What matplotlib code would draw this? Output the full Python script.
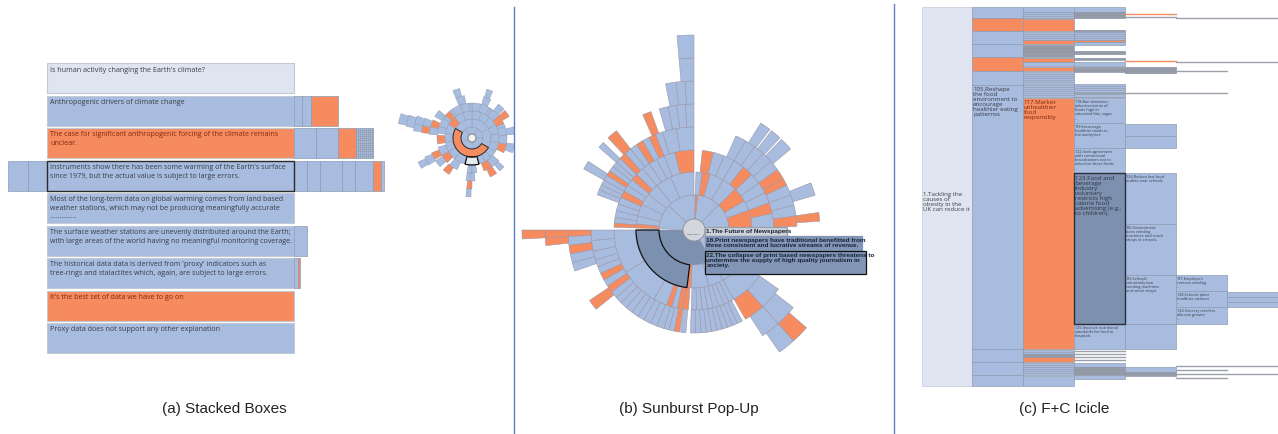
import matplotlib
matplotlib.use("Agg")
import matplotlib.pyplot as plt
from matplotlib.patches import Rectangle, Wedge, Circle

BLUE = "#a7bcdf"
ORANGE = "#f58b5e"
LIGHT = "#dee5f0"
DARK = "#7c90b0"
GREY = "#9aa1ab"
EDGE = "#97a2b8"
FILL = {"b": BLUE, "o": ORANGE, "l": LIGHT, "d": DARK, "w": "#e6ebf2", "g": GREY, "s": BLUE}
TXT = "#3a3d44"
TXT_O = "#7d2a10"

# ---------------- (a) stacked boxes ----------------
box_top = [64, 97, 129, 162, 194, 227, 259, 292, 324]
box_kind = ["l", "b", "o", "b", "b", "b", "b", "o", "b"]
box_text = [
    "Is human activity changing the Earth's climate?",
    "Anthropogenic drivers of climate change",
    "The case for significant anthropogenic forcing of the climate remains\nunclear.",
    "Instruments show there has been some warming of the Earth's surface\nsince 1979, but the actual value is subject to large errors.",
    "Most of the long-term data on global warming comes from land based\nweather stations, which may not be producing meaningfully accurate\n..............",
    "The surface weather stations are unevenly distributed around the Earth;\nwith large areas of the world having no meaningful monitoring coverage.",
    "The historical data data is derived from 'proxy' indicators such as\ntree-rings and stalactites which, again, are subject to large errors.",
    "It's the best set of data we have to go on",
    "Proxy data does not support any other explanation",
]
# sibling boxes sticking out right / left of each focus box: (width, kind)
box_right = [[], [(8, "b"), (9, "b"), (27, "o")],
             [(22, "b"), (22, "b"), (18, "o"), (17, "s")],
             [(13, "b"), (13, "b"), (22, "b"), (13, "b"), (18, "b"), (8, "o"), (3, "b")],
             [], [(13, "b")], [(4, "b"), (2, "o")], [], []]
box_left = [[], [], [], [(19, "b"), (20, "b")], [], [], [], [], []]
box_selected = 3

# small overview sunburst in (a): per ring (start deg, end deg, kind)
small_rings = [
    [(0, 60, "b"), (60, 130, "b"), (130, 200, "b"), (200, 280, "b"), (280, 360, "b")],
    [(-30, 30, "b"), (30, 90, "b"), (90, 150, "b"), (150, 330, "o")],
    [(-30, -10, "b"), (-10, 10, "b"), (10, 30, "b"), (30, 50, "b"), (50, 70, "b"), (70, 90, "b"),
     (90, 110, "b"), (110, 130, "b"), (130, 150, "o"), (150, 170, "b"), (170, 190, "b"),
     (190, 210, "b"), (210, 230, "b"), (230, 255, "b"), (255, 285, "w"), (285, 300, "b"),
     (300, 315, "b"), (315, 330, "b")],
    [(-25, -10, "o"), (-10, 5, "b"), (5, 20, "b"), (20, 25, "b"), (25, 40, "o"), (40, 55, "b"),
     (55, 60, "b"), (60, 75, "b"), (75, 90, "b"), (90, 95, "b"), (95, 110, "b"), (110, 125, "b"),
     (125, 130, "b"), (130, 140, "o"), (140, 145, "b"), (145, 160, "b"), (160, 172, "b"),
     (175, 190, "o"), (195, 210, "b"), (210, 225, "o"), (230, 245, "b"), (262, 270, "b"),
     (270, 278, "b"), (290, 305, "o"), (305, 320, "b")],
    [(-20, -8, "b"), (5, 15, "b"), (30, 40, "o"), (42, 52, "b"), (64, 74, "b"), (100, 112, "b"),
     (140, 150, "b"), (155, 165, "o"), (165, 175, "b"), (200, 210, "o"), (212, 222, "b"),
     (228, 238, "o"), (262, 268, "b"), (268, 274, "b"), (295, 305, "o"), (310, 318, "b")],
    [(66, 73, "b"), (104, 112, "b"), (157, 166, "b"), (166, 174, "o"), (202, 212, "b"), (264, 270, "o")],
    [(158, 166, "b"), (166, 173, "b"), (204, 211, "b"), (264, 269, "b")],
    [(160, 170, "b")],
    [(161, 169, "b")],
]
small_radii = [4, 11, 19, 27, 35, 43, 51, 59, 67, 75]

# ---------------- (b) sunburst pop-up ----------------
big_rings = [
    [(2, 46, "b"), (46, 84, "b"), (84, 88, "o"), (88, 136, "b"), (136, 178, "b"),
     (180, 300, "d"), (300, 358, "b")],
    [(90, 114, "b"), (114, 130, "b"), (130, 142, "b"), (142, 154, "b"), (154, 166, "b"),
     (166, 174, "b"), (174, 178, "o"),
     (180, 263, "d"), (263, 267, "o"), (267, 285, "b"), (285, 300, "b"), (300, 325, "b"),
     (325, 358, "b"),
     (2, 20, "o"), (20, 30, "b"), (30, 45, "o"), (45, 60, "b"), (60, 74, "b"), (74, 82, "o"), (82, 88, "b")],
    [(90, 104, "o"), (104, 112, "b"), (112, 118, "b"), (118, 124, "b"), (124, 130, "b"), (130, 136, "b"),
     (136, 141, "o"), (141, 146, "b"), (146, 151, "b"), (151, 156, "o"), (156, 161, "b"),
     (161, 166, "b"), (166, 171, "b"), (171, 175, "b"), (175, 178, "o"),
     (180, 212, "b"), (212, 240, "b"), (240, 250, "b"), (250, 254, "o"), (254, 258, "b"),
     (258, 262, "o"), (262, 266, "o"),
     (268, 272, "b"), (272, 276, "b"), (276, 280, "b"), (280, 284, "b"), (284, 288, "b"),
     (288, 292, "b"), (292, 296, "b"), (296, 300, "b"), (300, 325, "b"),
     (2, 12, "b"), (12, 20, "o"), (20, 28, "b"), (28, 36, "b"), (36, 44, "b"), (44, 52, "o"),
     (52, 60, "b"), (60, 68, "b"), (68, 76, "b"), (76, 84, "o")],
    [(90, 100, "b"), (100, 108, "b"), (108, 112, "b"), (112, 116, "o"), (116, 120, "b"),
     (120, 124, "o"), (124, 128, "b"), (128, 132, "b"), (132, 136, "o"), (136, 139, "b"),
     (139, 142, "b"), (142, 145, "b"), (145, 148, "o"), (148, 151, "b"), (151, 154, "b"),
     (154, 157, "b"), (157, 160, "b"),
     (180, 186, "b"), (186, 192, "b"), (192, 197, "b"), (197, 201, "b"), (201, 205, "b"),
     (205, 209, "o"), (209, 213, "b"), (213, 217, "o"), (217, 221, "b"), (221, 225, "b"),
     (225, 229, "b"), (229, 233, "b"), (233, 237, "b"), (237, 241, "b"), (241, 245, "b"),
     (245, 249, "b"), (249, 253, "b"), (253, 256, "b"), (256, 259, "b"), (259, 262, "o"),
     (262.5, 265.5, "b"),
     (268, 271, "b"), (271, 274, "b"), (274, 277, "b"), (277, 280, "b"), (280, 283, "b"),
     (283, 286, "b"), (286, 289, "b"), (289, 292, "b"), (292, 295, "b"), (295, 298, "b"),
     (300, 312, "o"), (312, 325, "b"),
     (2, 8, "o"), (8, 14, "b"), (14, 20, "b"), (20, 26, "b"), (26, 30, "o"), (30, 36, "o"),
     (36, 42, "b"), (42, 48, "b"), (48, 54, "b"), (54, 60, "b"), (60, 66, "b")],
    [(90, 94, "b"), (94, 98, "b"), (98, 102, "b"), (102, 106, "b"), (110, 114, "o"),
     (128, 133, "o"), (136, 139, "b"), (147, 151, "b"),
     (180, 183, "o"), (183, 187, "b"), (187, 191, "o"), (191, 195, "b"), (195, 199, "b"),
     (214, 219, "o"), (303, 312, "b"), (312, 322, "b"),
     (4, 8, "o"), (16, 22, "b"), (40, 46, "b"), (47, 52, "b"), (53, 58, "b")],
    [(90, 93.5, "b"), (93.5, 97, "b"), (97, 101, "b"),
     (180, 183, "o"), (183, 186, "o"), (305, 312, "b"), (312, 319, "o")],
    [(90, 95, "b"), (180, 183, "o")],
    [(90, 95, "b")],
]
big_radii = [11, 35, 58, 80, 103, 126, 149, 172, 195]
popup_text = ["1.The Future of Newspapers",
              "18.Print newspapers have traditional benefitted from\nthree consistent and lucrative streams of revenue.",
              "22.The collapse of print based newspapers threatens to\nundermine the supply of high quality journalism in\nsociety."]

# ---------------- (c) F+C icicle ----------------
ice_x = [922, 972, 1023, 1074, 1125, 1176, 1227, 1278]
ice_cols = [
    [(8, 387, "l")],
    [(8, 19, "b"), (19, 32, "o"), (32, 45, "b"), (45, 58, "b"), (58, 72, "o"), (72, 86, "b"),
     (86, 350, "b"), (350, 363, "b"), (363, 376, "b"), (376, 387, "b")],
    [(8, 13, "b"), (13, 19, "s"), (20, 32, "o"), (33, 41, "s"), (41, 45, "o"), (46, 58, "g"),
     (59, 63, "o"), (63, 67, "b"), (68, 72, "o"), (73, 85, "s"), (86, 98, "s"), (99, 350, "o"),
     (351, 355, "s"), (355, 358, "g"), (358, 363, "o"), (364, 376, "s"), (377, 387, "b")],
    [(8, 13, "b"), (13, 19, "g"), (31, 33, "g"), (33, 41, "s"), (41, 43, "o"), (43, 46, "b"),
     (52, 55, "g"), (59, 61, "g"), (63, 67, "b"), (68, 73, "g"), (85, 98, "s"), (99, 124, "b"),
     (124, 149, "b"), (149, 174, "b"), (174, 325, "d"), (325, 350, "b"), (364, 368, "b"),
     (368, 376, "g"), (376, 380, "b")],
    [(68, 74, "g"), (125, 137, "b"), (137, 149, "b"), (174, 225, "b"), (225, 276, "b"),
     (276, 325, "b"), (325, 350, "b"), (368, 373, "b"), (373, 377, "g")],
    [(276, 292, "b"), (292, 308, "b"), (308, 325, "b")],
    [(293, 298, "b"), (298, 303, "b"), (303, 308, "b")],
]
# thin leaf lines: (y, x from, x to, kind)
ice_lines = [(14.5, 1125, 1176, "o"), (17.5, 1125, 1176, "g"), (19, 1176, 1278, "g"),
             (61.5, 1125, 1176, "o"), (62.5, 1176, 1278, "g"), (71.5, 1176, 1227, "g"),
             (94, 1074, 1227, "g"), (352, 1074, 1125, "g"), (355, 1074, 1125, "g"),
             (358, 1074, 1125, "g"), (361, 1074, 1125, "g"), (367, 1176, 1278, "g"),
             (371, 1176, 1227, "g"), (375, 1176, 1278, "g"), (379, 1176, 1227, "g")]
ice_big_text = [
    (923, 192, "1.Tackling the\ncauses of\nobesity in the\nUK can reduce it", TXT),
    (973, 87, "105.Reshape\nthe food\nenvironment to\nencourage\nhealthier eating\npatternss", TXT),
    (1024, 100, "117.Market\nunhealthier\nfood\nresponsibly", TXT_O),
    (1075, 176, "123.Food and\nbeverage\nindustry\nvoluntary\nrestricts high\ncalorie food\nadvertising (e.g.,\nto children).", "#2f3440"),
]
ice_small_text = [
    (1075, 100, "118.Ban television\nadvertisements of\nfoods high in\nsaturated fats, sugar\n..."),
    (1075, 125, "119.Encourage\nhealthier meals in\nthe workplace"),
    (1075, 150, "122.Seek agreement\nwith commercial\nbroadcasters not to\nadvertise these foods\n..."),
    (1075, 326, "125.Improve nutritional\nstandards for food in\nhospitals"),
    (1126, 175, "124.Reduce fast food\noutlets near schools"),
    (1126, 226, "126.Government\nbans vending\nmachines and snack\nshops in schools."),
    (1126, 277, "126.Schools\nvoluntarily ban\nvending machines\nand snack shops"),
    (1177, 277, "127.Employers\nremove vending\n..."),
    (1177, 293, "128.Schools place\nhealthier canteen\n..."),
    (1177, 309, "134.Grocery retailers\nallocate greater\n..."),
]

captions = ["(a) Stacked Boxes", "(b) Sunburst Pop-Up", "(c) F+C Icicle"]
caption_x = [224, 689, 1064]

fig = plt.figure(figsize=(12.78, 4.35), dpi=100)
ax = fig.add_axes([0, 0, 1, 1])
ax.set_xlim(0, 1278)
ax.set_ylim(435, 0)
ax.axis("off")


def rect(x, y, w, h, kind, ec=EDGE, lw=0.5, z=2):
    ax.add_patch(Rectangle((x, y), w, h, facecolor=FILL[kind], edgecolor=ec, lw=lw, zorder=z))
    if kind == "s":
        yy = y + 1.5
        while yy < y + h:
            ax.plot([x, x + w], [yy, yy], color="#8e97a6", lw=0.4, zorder=z + 0.1)
            yy += 2.2
    if kind == "g":
        yy = y + 1
        while yy < y + h:
            ax.plot([x, x + w], [yy, yy], color="#868d98", lw=0.3, zorder=z + 0.1)
            yy += 1.6


def ring_cell(c, r0, r1, a1, a2, kind, ec="#9d97a8", lw=0.4, z=2, fill=True):
    # screen angles (ccw from east); y axis is flipped, so negate
    ax.add_patch(Wedge(c, r1, -a2, -a1, width=r1 - r0, facecolor=FILL[kind] if fill else "none",
                       edgecolor=ec, lw=lw, zorder=z))


# ---- panel (a)
for i, top in enumerate(box_top):
    kind = box_kind[i]
    rect(47, top, 247, 30, kind, ec="#c3cad6", lw=0.8)
    x = 294
    for w, k in box_right[i]:
        rect(x, top, w, 30, k, ec="#8d9bb5", lw=0.5)
        if k == "s":
            for xx in range(int(x) + 2, int(x + w), 2):
                ax.plot([xx, xx], [top, top + 30], color="#8e97a6", lw=0.4, zorder=2.2)
        x += w
    x = 47
    for w, k in box_left[i]:
        x -= w
        rect(x, top, w, 30, k, ec="#8d9bb5", lw=0.5)
    ax.text(50, top + 2.5, box_text[i], fontsize=5.1, family=["Open Sans", "DejaVu Sans"],
            va="top", ha="left", color=TXT_O if kind == "o" else TXT, linespacing=1.28, zorder=4)
ax.add_patch(Rectangle((47, box_top[box_selected]), 247, 30, facecolor="none",
                       edgecolor="#2b2b2b", lw=1.0, zorder=5))

sc = (472, 139)
for r, cells in enumerate(small_rings):
    for a1, a2, k in cells:
        ring_cell(sc, small_radii[r], small_radii[r + 1], a1, a2, k, ec="#8f9ab0", lw=0.3)
ring_cell(sc, small_radii[1], small_radii[2], 150, 330, "o", ec="#2b2b2b", lw=0.7, z=3, fill=False)
ring_cell(sc, small_radii[2], small_radii[3], 255, 285, "w", ec="#111111", lw=0.9, z=3, fill=False)
ax.add_patch(Circle(sc, small_radii[0], facecolor="#f2f3f5", edgecolor="#777", lw=0.6, zorder=3))

# ---- panel (b)
bc = (694, 231)
for r, cells in enumerate(big_rings):
    for a1, a2, k in cells:
        ring_cell(bc, big_radii[r], big_radii[r + 1], a1, a2, k)
ring_cell(bc, big_radii[1], big_radii[2], 180, 263, "d", ec="#111111", lw=0.9, z=3, fill=False)
ax.add_patch(Circle(bc, big_radii[0], facecolor="#d3d6dc", edgecolor="#8a8f99", lw=0.6, zorder=3))
ax.text(bc[0], bc[1] + 3, "Newspapers", fontsize=1.6, ha="center", va="center", color="#555", zorder=4)

pop_boxes = [(705, 228, 82, 8.5, "#cdd1d9", "#9aa0aa"),
             (705, 237, 157, 15, "#8196b6", "#8196b6"),
             (705, 252, 161, 22.5, "#8196b6", "#111111")]
for (x, y, w, h, fc, ec), t in zip(pop_boxes, popup_text):
    ax.add_patch(Rectangle((x, y), w, h, facecolor=fc, edgecolor=ec, lw=0.9, zorder=6))
    ax.text(x + 1.5, y + 0.8, t, fontsize=4.6, fontweight="bold",
            family=["Liberation Sans Narrow", "Liberation Sans", "DejaVu Sans"],
            va="top", ha="left", color="#1b2335", linespacing=1.05, zorder=7)

# ---- panel (c)
for ci, cells in enumerate(ice_cols):
    x0, x1 = ice_x[ci], ice_x[ci + 1]
    for y0, y1, k in cells:
        rect(x0, y0, x1 - x0, y1 - y0, k, ec="#8f9bb0" if ci else "#c3cad6", lw=0.5)
ax.add_patch(Rectangle((ice_x[3], 174), ice_x[4] - ice_x[3], 151, facecolor="none",
                       edgecolor="#2b2f38", lw=1.0, zorder=5))
for y, xa, xb, k in ice_lines:
    ax.plot([xa, xb], [y, y], color=ORANGE if k == "o" else GREY, lw=1.0, zorder=3)
for x, y, t, col in ice_big_text:
    ax.text(x, y, t, fontsize=4.4, family=["Open Sans", "DejaVu Sans"], va="top", ha="left",
            color=col, linespacing=1.0, zorder=6)
for x, y, t in ice_small_text:
    ax.text(x, y, t, fontsize=2.8, family=["Open Sans", "DejaVu Sans"], va="top", ha="left",
            color=TXT, linespacing=1.05, zorder=6)

# separators and captions
ax.plot([514, 514], [8, 435], color="#5b7cc8", lw=1.0)
ax.plot([894, 894], [5, 435], color="#6a7fb8", lw=1.0)
for x, t in zip(caption_x, captions):
    ax.text(x, 409, t, fontsize=11, family=["Liberation Sans", "DejaVu Sans"], ha="center",
            va="center", color="#222222")

fig.savefig("out.png", dpi=100, facecolor="white")
